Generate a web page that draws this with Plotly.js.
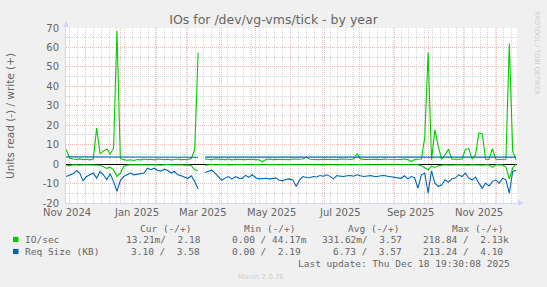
<!DOCTYPE html>
<html><head><meta charset="utf-8">
<script src="https://cdn.plot.ly/plotly-3.0.1.min.js"></script>
<style>html,body{margin:0;padding:0;background:#F0F0F0;}#chart{width:547px;height:287px;}</style>
</head><body><div id="chart"></div>
<script>
// ---- data (one sample every 3 days, starting 2024-11-14) ----
const startDate = '2024-11-14';
const stepDays = 3;
const writeIO = [7.5,3.0,2.6,2.4,2.7,2.3,2.5,2.2,2.6,18.5,
 5.5,6.5,7.8,5.2,8.2,68.5,2.8,2.3,2.0,2.2,
 1.9,2.4,2.2,2.6,2.3,2.5,2.2,2.6,2.4,2.3,
 2.5,2.2,2.4,2.6,2.3,2.5,2.4,3.0,7.5,57.4,
 null,2.6,2.5,2.3,2.6,2.4,2.5,2.3,2.6,2.2,
 2.5,2.4,2.6,2.3,2.5,2.4,2.6,2.2,1.2,2.4,
 2.6,2.3,2.5,2.4,2.6,2.5,2.3,2.6,2.4,2.5,
 2.6,3.6,2.5,2.4,2.6,2.3,2.5,2.4,2.6,2.5,
 2.3,2.6,2.4,2.5,2.4,2.6,5.3,2.6,2.4,2.5,
 2.6,2.4,2.5,2.3,2.6,2.5,2.4,2.6,2.5,2.4,
 2.6,2.3,1.3,2.4,2.5,2.6,13.8,57.4,2.2,17.6,
 9.0,2.5,4.8,7.7,2.5,2.4,2.6,2.5,7.5,8.0,
 2.6,4.8,16.0,15.5,2.5,2.4,8.0,2.5,2.4,2.6,
 2.5,62.0,6.5,2.2];
const readIO = [-1.0,-0.6,-0.4,-0.3,-0.5,-0.3,-0.4,-0.3,-0.5,-0.8,
 -0.6,-1.4,-2.2,-1.6,-3.0,-6.4,-4.6,-1.2,-0.5,-0.4,
 -0.3,-0.5,-0.3,-0.4,-0.3,-0.2,-0.4,-0.3,-0.5,-0.3,
 -0.2,-0.4,-0.3,-0.4,-0.3,-0.5,-0.4,-0.8,-2.9,-3.3,
 null,-0.6,-0.3,-0.2,-0.4,-0.3,-0.3,-0.2,-0.4,-0.3,
 -0.3,-0.4,-0.2,-0.3,-0.4,-0.3,-0.2,-0.3,-0.4,-0.3,
 -0.2,-0.3,-0.4,-0.3,-0.3,-0.2,-0.4,-0.3,-0.3,-0.4,
 -0.2,-0.3,-0.3,-0.4,-0.2,-0.3,-0.4,-0.3,-0.2,-0.3,
 -0.4,-0.3,-0.3,-0.2,-0.4,-0.3,-0.3,-0.4,-0.2,-0.3,
 -0.3,-0.4,-0.3,-0.2,-0.3,-0.4,-0.3,-0.3,-0.2,-0.4,
 -0.3,-0.3,-0.5,-0.4,-0.3,-0.8,-2.0,-2.9,-1.0,-1.7,
 -0.8,-0.4,-0.3,-0.5,-0.3,-0.4,-0.3,-0.4,-0.6,-0.5,
 -0.3,-0.4,-0.6,-0.5,-0.3,-0.4,-1.7,-0.4,-0.3,-0.5,
 -1.5,-7.7,-2.0,-0.1];
const writeReq = [3.7,3.7,3.6,3.7,3.6,3.7,3.6,3.6,3.7,3.6,
 3.6,3.5,3.6,3.6,3.5,3.4,3.5,3.5,3.6,3.5,
 3.5,3.6,3.5,3.6,3.5,3.5,3.6,3.5,3.6,3.6,
 3.5,3.6,3.5,3.6,3.6,3.5,3.6,3.6,3.5,3.5,
 null,3.6,3.6,3.7,3.6,3.6,3.6,3.5,3.6,3.6,
 3.6,3.6,3.6,3.6,3.6,3.6,3.6,3.6,3.6,3.6,
 3.6,3.6,3.6,3.6,3.6,3.6,3.6,3.6,3.6,3.6,
 3.6,3.6,3.6,3.6,3.6,3.6,3.6,3.6,3.6,3.6,
 3.6,3.6,3.6,3.6,3.6,3.6,3.6,3.6,3.6,3.6,
 3.6,3.6,3.6,3.6,3.6,3.6,3.6,3.6,3.6,3.6,
 3.6,3.6,3.6,3.6,3.6,3.6,3.6,3.6,3.6,3.6,
 3.6,3.6,3.6,3.6,3.6,3.6,3.6,3.6,3.6,3.6,
 3.6,3.6,3.6,3.6,3.6,3.6,3.6,3.6,3.6,3.6,
 3.6,3.6,3.6,3.58];
const readReq = [-6.4,-5.8,-5.0,-3.4,-4.6,-8.5,-6.4,-5.5,-4.6,-7.2,
 -3.8,-5.5,-8.0,-5.0,-9.0,-14.0,-8.5,-6.4,-5.5,-4.6,
 -5.5,-5.2,-5.0,-4.6,-2.1,-2.9,-2.1,-3.3,-3.6,-2.6,
 -3.3,-4.6,-3.8,-5.5,-6.0,-6.8,-7.4,-6.0,-9.0,-12.8,
 null,-4.3,-3.8,-3.1,-4.6,-6.4,-8.3,-7.2,-6.4,-7.7,
 -6.4,-7.2,-7.4,-5.8,-6.8,-5.5,-7.0,-7.6,-7.4,-7.3,
 -7.6,-7.4,-7.2,-8.3,-8.6,-7.8,-7.6,-8.1,-11.5,-8.1,
 -6.4,-6.9,-7.0,-6.4,-6.6,-5.9,-6.2,-5.5,-6.3,-7.6,
 -5.9,-6.2,-6.4,-6.0,-5.9,-6.2,-5.5,-6.0,-6.4,-6.1,
 -5.9,-6.3,-6.4,-6.0,-5.9,-6.2,-6.4,-6.6,-6.9,-7.3,
 -6.0,-7.6,-6.4,-7.0,-12.4,-5.5,-4.6,-14.9,-3.5,-9.8,
 -11.5,-10.6,-8.1,-9.3,-7.6,-7.2,-5.5,-6.4,-4.6,-7.2,
 -8.1,-6.7,-9.8,-12.4,-9.8,-11.2,-9.0,-8.1,-9.8,-7.2,
 -8.1,-15.0,-3.8,-3.1];

const monthGrid = ['2024-12-01','2025-01-01','2025-02-01','2025-03-01','2025-04-01','2025-05-01',
 '2025-06-01','2025-07-01','2025-08-01','2025-09-01','2025-10-01','2025-11-01','2025-12-01'];
const monthLabelDates = ['2024-11-15','2025-01-15','2025-03-15','2025-05-15','2025-07-15','2025-09-15','2025-11-15'];
const monthLabels = ['Nov 2024','Jan 2025','Mar 2025','May 2025','Jul 2025','Sep 2025','Nov 2025'];
const yTickVals = [-20,-10,0,10,20,30,40,50,60,70];
const yTickText = ['-20','-10','0','10','20','30','40','50','60','70'];

const legendHeader = ['Cur (-/+)','Min (-/+)','Avg (-/+)','Max (-/+)'];
const seriesNames = ['IO/sec','Req Size (KB)'];
const seriesColors = ['#00CC00','#0066B3'];
const legendStats = [
  ['13.21m/  2.18','0.00 / 44.17m','331.62m/  3.57','218.84 /  2.13k'],
  ['3.10 /  3.58','0.00 /  2.19','6.73 /  3.57','213.24 /  4.10']
];
const lastUpdate = 'Last update: Thu Dec 18 19:30:08 2025';
const titleText = 'IOs for /dev/vg-vms/tick - by year';
const yTitle = 'Units read (-) / write (+)';
const sideText = 'RRDTOOL / TOBI OETIKER';
const footer = 'Munin 2.0.76';

// ---- build ----
const DAY = 86400000;
const t0 = Date.parse(startDate + 'T00:00:00Z');
const dates = writeIO.map((_, i) => new Date(t0 + i * stepDays * DAY).toISOString().slice(0, 10));

const W = 547, H = 287, L = 66, R = 517, T = 28, B = 203;
const px = x => (x - L) / (R - L);
const py = y => (B - y) / (B - T);
const nb = s => s.replace(/ /g, '\u00A0');

const FONT = 'DejaVu Sans';
const MONO = 'DejaVu Sans Mono';
const FC = '#666666';
const AXC = '#CFD6F8';
const MAJ = '#F0BDBD';
const MIN = '#D6D6D6';

function line(y, color) {
  return {x: dates, y: y, type: 'scatter', mode: 'lines', connectgaps: false,
    line: {color: color, width: 1.1}, hoverinfo: 'skip', showlegend: false};
}
const traces = [line(readIO, seriesColors[0]), line(writeIO, seriesColors[0]),
                line(readReq, seriesColors[1]), line(writeReq, seriesColors[1])];

const ann = [];
ann.push({text: yTitle, xref: 'paper', yref: 'paper', x: px(10), y: py(116), textangle: -90,
  showarrow: false, font: {family: FONT, size: 10.5, color: FC}, xanchor: 'center', yanchor: 'middle'});
ann.push({text: sideText, xref: 'paper', yref: 'paper', x: px(537), y: py(53), textangle: 90,
  showarrow: false, font: {family: FONT, size: 6.5, color: '#CCCCCC'}, xanchor: 'center', yanchor: 'middle'});
ann.push({text: footer, xref: 'paper', yref: 'paper', x: px(261), y: py(277),
  showarrow: false, font: {family: FONT, size: 7, color: '#CCCCCC'}, xanchor: 'center', yanchor: 'middle'});
monthLabelDates.forEach((d, i) => ann.push({text: monthLabels[i], xref: 'x', yref: 'paper', x: d, y: py(212),
  showarrow: false, font: {family: FONT, size: 10, color: FC}, xanchor: 'center', yanchor: 'middle'}));

function cell(text, left, yc) {
  ann.push({text: nb(text), xref: 'paper', yref: 'paper', x: px(left - 1), y: py(yc), borderpad: 0,
    showarrow: false, font: {family: MONO, size: 9.5, color: FC}, xanchor: 'left', yanchor: 'middle'});
}
const headX = [140, 244, 348, 452];
legendHeader.forEach((h, i) => cell(h, headX[i], 228));
const rowY = [239.5, 251.5];
const valX = [[125.7, 232, 322, 423], [131, 232, 333, 423]];
seriesNames.forEach((n, r) => {
  cell(n, 25, rowY[r]);
  legendStats[r].forEach((s, c) => cell(s, valX[r][c], rowY[r]));
});
cell(lastUpdate, 298, 263.5);

const shapes = [];
seriesColors.forEach((c, r) => shapes.push({type: 'rect', xref: 'paper', yref: 'paper',
  x0: px(13), x1: px(18.5), y0: py(rowY[r] + 2.6), y1: py(rowY[r] - 2.6), fillcolor: c, line: {width: 0}}));
shapes.push({type: 'path', xref: 'paper', yref: 'paper',
  path: `M ${px(63)},${py(27)} L ${px(69)},${py(27)} L ${px(66)},${py(21)} Z`, fillcolor: AXC, line: {width: 0}});
shapes.push({type: 'path', xref: 'paper', yref: 'paper',
  path: `M ${px(518)},${py(200)} L ${px(518)},${py(206)} L ${px(524)},${py(203)} Z`, fillcolor: AXC, line: {width: 0}});

const layout = {
  width: W, height: H,
  margin: {l: L, r: W - R, t: T, b: H - B, pad: 0},
  paper_bgcolor: '#F0F0F0', plot_bgcolor: '#FFFFFF',
  title: {text: titleText, font: {family: FONT, size: 12.5, color: FC},
    x: 0.5, xref: 'container', xanchor: 'center', y: 1 - 19.5 / H, yref: 'container', yanchor: 'middle'},
  xaxis: {type: 'date', range: ['2024-11-13 19:30', '2025-12-18 19:30'],
    tickmode: 'array', tickvals: monthGrid, showticklabels: false, ticks: '',
    showgrid: true, gridcolor: MAJ, gridwidth: 1, griddash: '1px,1px',
    minor: {dtick: 7 * DAY, tick0: '2024-11-17', showgrid: true, gridcolor: MIN, gridwidth: 1, griddash: '1px,1px', ticks: ''},
    showline: true, linecolor: AXC, linewidth: 1, zeroline: false, fixedrange: true},
  yaxis: {range: [-20, 70], tickmode: 'array', tickvals: yTickVals, ticktext: yTickText, ticks: '',
    tickfont: {family: FONT, size: 10, color: FC}, ticklabelstandoff: 4,
    showgrid: true, gridcolor: MAJ, gridwidth: 1, griddash: '1px,1px',
    minor: {dtick: 5, tick0: 0, showgrid: true, gridcolor: MIN, gridwidth: 1, griddash: '1px,1px', ticks: ''},
    zeroline: true, zerolinecolor: '#000000', zerolinewidth: 1,
    showline: true, linecolor: AXC, linewidth: 1, fixedrange: true},
  annotations: ann, shapes: shapes, showlegend: false
};
Plotly.newPlot('chart', traces, layout, {staticPlot: true, displayModeBar: false});
</script></body></html>
